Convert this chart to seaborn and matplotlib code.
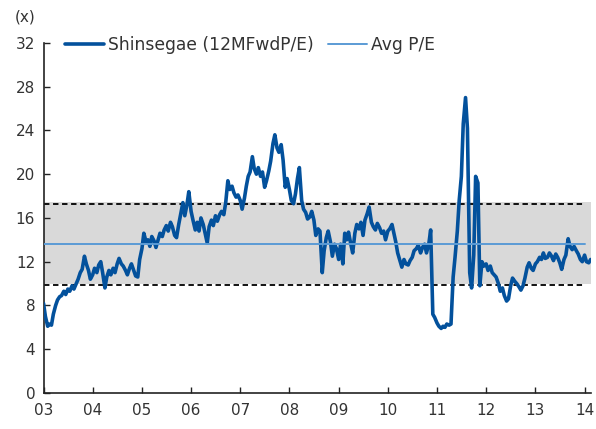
import pandas as pd
import matplotlib
matplotlib.use("Agg")
import matplotlib.pyplot as plt
import seaborn as sns

# semi-monthly readings of 12M fwd P/E, Jan 2003 - Feb 2014
pe_2003 = [8.2, 7.0, 6.1, 6.3, 6.2, 7.2, 8.0, 8.5, 8.8, 8.9, 9.3, 9.0,
           9.5, 9.3, 9.8, 9.5, 10.0, 10.4, 11.0, 11.3, 12.5, 11.8, 11.2, 10.4]
pe_2004 = [10.8, 11.4, 11.0, 11.7, 12.0, 11.0, 9.6, 10.6, 11.2, 10.8, 11.4, 11.0,
           11.8, 12.3, 11.8, 11.6, 11.2, 10.8, 11.4, 11.8, 11.2, 10.7, 10.6, 12.2]
pe_2005 = [13.2, 14.6, 13.8, 14.0, 13.4, 14.3, 13.9, 13.3, 14.0, 14.6, 14.3, 14.9,
           15.3, 14.8, 15.6, 15.2, 14.4, 14.2, 15.4, 16.3, 17.4, 16.2, 17.2, 18.4]
pe_2006 = [16.6, 15.8, 14.9, 15.6, 14.8, 16.0, 15.4, 14.6, 13.7, 15.2, 15.8, 15.3,
           16.2, 15.7, 16.3, 16.6, 16.3, 17.4, 19.4, 18.6, 18.9, 18.3, 17.9, 18.1]
pe_2007 = [17.6, 16.8, 17.8, 18.9, 19.8, 20.2, 21.6, 20.5, 20.0, 20.6, 19.8, 20.2,
           18.8, 19.4, 20.3, 21.2, 22.8, 23.6, 22.4, 22.0, 22.7, 21.3, 18.8, 19.6]
pe_2008 = [18.6, 17.6, 17.3, 18.2, 19.6, 20.6, 17.6, 16.8, 16.5, 15.9, 16.1, 16.6,
           15.8, 14.4, 15.0, 14.8, 11.0, 13.0, 14.2, 14.8, 13.8, 12.5, 13.6, 13.2]
pe_2009 = [12.2, 13.6, 11.8, 14.6, 14.0, 14.7, 13.6, 12.8, 14.6, 15.4, 15.0, 15.6,
           14.4, 15.8, 16.4, 17.0, 15.6, 15.2, 14.9, 15.5, 15.1, 14.6, 14.8, 14.0]
pe_2010 = [14.8, 15.0, 15.4, 14.6, 13.8, 12.8, 12.1, 11.5, 12.2, 11.8, 11.7, 12.1,
           12.4, 13.0, 13.2, 13.5, 12.8, 13.3, 13.6, 12.8, 13.6, 14.9, 7.2, 6.9]
pe_2011 = [6.4, 6.1, 5.9, 6.1, 6.0, 6.3, 6.2, 6.3, 10.6, 12.4, 14.8, 17.6,
           19.8, 24.6, 27.0, 24.2, 11.0, 9.6, 12.6, 19.8, 19.2, 9.8, 12.0, 11.6]
pe_2012 = [11.8, 11.2, 11.6, 11.0, 10.8, 10.6, 10.0, 9.3, 9.6, 8.9, 8.4, 8.6,
           9.8, 10.5, 10.2, 10.0, 9.7, 9.4, 9.8, 10.5, 11.5, 11.9, 11.4, 11.2]
pe_2013 = [11.8, 12.0, 12.4, 12.2, 12.8, 12.3, 12.4, 12.8, 12.5, 12.1, 12.7, 12.4,
           11.9, 11.3, 12.2, 12.6, 14.1, 13.4, 13.1, 13.4, 13.0, 12.7, 12.2, 12.0]
pe_2014 = [12.6, 12.0, 11.9, 12.2]

avg_pe = 13.6
band_low, band_high = 10.0, 17.45
dash_low, dash_high = 9.9, 17.25
year_labels = ["03", "04", "05", "06", "07", "08", "09", "10", "11", "12", "13", "14"]

pe = (pe_2003 + pe_2004 + pe_2005 + pe_2006 + pe_2007 + pe_2008 + pe_2009
      + pe_2010 + pe_2011 + pe_2012 + pe_2013 + pe_2014)
df = pd.DataFrame({"date": pd.date_range("2003-01-01", periods=len(pe), freq="SMS"),
                   "pe": pe})

sns.set_style("ticks")
plt.rcParams["font.family"] = ["DejaVu Sans"]

fig = plt.figure(figsize=(5.96, 4.29), dpi=100)
ax = fig.add_axes([0.073, 0.084, 0.918, 0.816])

start = df["date"].iloc[0]
end = df["date"].iloc[-1]
line_end = pd.Timestamp("2014-01-01")

# gray range band + dashed bounds
ax.axhspan(band_low, band_high, color="#d9d9d9", lw=0, zorder=0)
ax.hlines([dash_low, dash_high], start, line_end, colors="black",
          linestyles=(0, (3, 2)), lw=1.3, zorder=1)

sns.lineplot(data=df, x="date", y="pe", ax=ax, color="#03519c", lw=2.6,
             label="Shinsegae (12MFwdP/E)", zorder=3)
avg_df = pd.DataFrame({"date": [start, line_end], "pe": [avg_pe, avg_pe]})
sns.lineplot(data=avg_df, x="date", y="pe", ax=ax, color="#5b9bd5", lw=1.4,
             label="Avg P/E", zorder=4)

ax.set_xlim(start, end)
ax.set_ylim(0, 32)
ax.set_yticks(range(0, 33, 4))
ticks = pd.date_range("2003-01-01", "2014-01-01", freq="YS")
ax.set_xticks(ticks)
ax.set_xticklabels(year_labels)
ax.set_xlabel("")
ax.set_ylabel("")

for side in ["top", "right"]:
    ax.spines[side].set_visible(False)
for side in ["left", "bottom"]:
    ax.spines[side].set_color("#222222")
    ax.spines[side].set_linewidth(1.2)
ax.tick_params(direction="in", length=4, width=1, colors="#222222",
               labelsize=11, labelcolor="#333333")
ax.tick_params(axis="x", pad=7)
ax.tick_params(axis="y", pad=6)

fig.text(0.025, 0.96, "(x)", fontsize=11, color="#333333", va="center")

leg = ax.legend(loc="center left", bbox_to_anchor=(0.039, 0.994), ncol=2,
                frameon=False, fontsize=12.3, handlelength=2.3,
                handletextpad=0.25, columnspacing=0.8, borderaxespad=0,
                borderpad=0)
for t in leg.get_texts():
    t.set_color("#333333")

fig.savefig("out.png", dpi=100)
